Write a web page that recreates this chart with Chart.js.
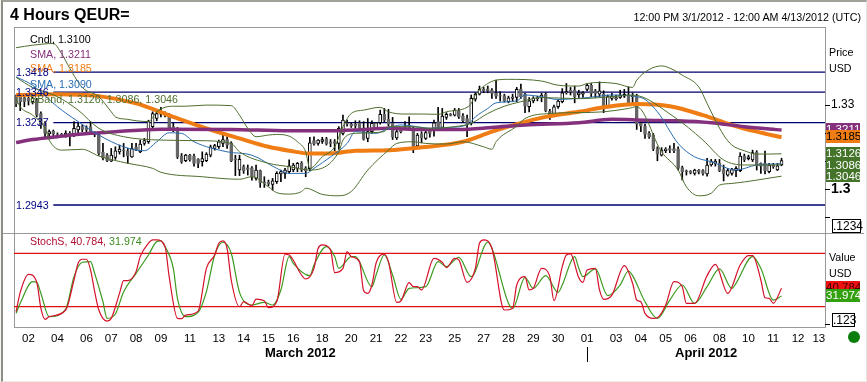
<!DOCTYPE html>
<html>
<head>
<meta charset="utf-8">
<title>4 Hours QEUR=</title>
<script src="https://cdn.jsdelivr.net/npm/chart.js@4"></script>
<style>
  html, body { margin: 0; padding: 0; background: #f6f6f0; }
  #page { position: relative; width: 867px; height: 382px; overflow: hidden; font-family: "Liberation Sans", Arial, sans-serif; }
  #page div { position: absolute; }
  .txt { font-size: 10.7px; line-height: 14px; white-space: nowrap; }
  .tag { left: 826px; width: 34px; text-align: center; font-size: 11.5px; line-height: 13px; overflow: hidden; }
  .box { border: 1px solid #000; background: #fff; color: #000; font-size: 12px; line-height: 13px; text-align: center; }
</style>
</head>
<body>
<div id="page">
  <div style="left:1px;top:0;width:863px;height:379px;background:#fff;border-top:2px solid #a0a098;border-left:2px solid #8c8c84;border-right:1px solid #e4e4dc;border-bottom:1px solid #ecece4;"></div>
  <div style="left:14px;top:27px;width:810px;height:299px;border:1px solid #999;"></div>
  <div style="left:2px;top:233px;width:862px;height:1px;background:#999;"></div>
  <canvas id="chart" width="867" height="382" style="position:absolute;left:0;top:0;"></canvas>

  <div class="txt" style="left:10px;top:5px;font-size:16px;line-height:20px;font-weight:bold;color:#000;">4 Hours QEUR=</div>
  <div class="txt" style="right:6px;top:10px;font-size:10.7px;color:#000;">12:00 PM 3/1/2012 - 12:00 AM 4/13/2012 (UTC)</div>

  <div class="txt" style="left:30px;top:32px;color:#000;">Cndl, 1.3100</div>
  <div class="txt" style="left:30px;top:47px;color:#84307c;">SMA, 1.3211</div>
  <div class="txt" style="left:30px;top:61px;color:#f07c14;">SMA, 1.3185</div>
  <div class="txt" style="left:30px;top:77px;color:#2a6cb0;">SMA, 1.3090</div>
  <div class="txt" style="left:30px;top:92px;color:#4e6e2e;">BBand, 1.3126, 1.3086, 1.3046</div>

  <div class="txt" style="left:16px;top:65px;color:#000080;">1.3418</div>
  <div class="txt" style="left:16px;top:85px;color:#000080;">1.3346</div>
  <div class="txt" style="left:16px;top:115px;color:#000080;">1.3237</div>
  <div class="txt" style="left:16px;top:198px;color:#000080;">1.2943</div>

  <div class="txt" style="left:829px;top:45px;color:#000;">Price</div>
  <div class="txt" style="left:829px;top:61px;color:#000;">USD</div>
  <div class="txt" style="left:829px;top:250px;color:#000;">Value</div>
  <div class="txt" style="left:829px;top:266px;color:#000;">USD</div>

  <div class="tag" style="top:123px;height:8px;background:#84307c;color:#fff;">1.3211</div>
  <div class="tag" style="top:130px;height:13px;background:#f07c14;color:#000;">1.3185</div>
  <div class="tag" style="top:147px;height:34px;padding-top:1px;background:#44742a;color:#fff;line-height:11.5px;">1.3126<br>1.3086<br>1.3046</div>
  <div class="tag" style="top:281px;height:8px;background:#ee1111;color:#400;">40.784</div>
  <div class="tag" style="top:289px;height:13px;background:#33a010;color:#fff;">31.974</div>

  <div class="box" style="left:832px;top:219px;width:27px;height:12px;">.1234</div>
  <div class="box" style="left:832px;top:313px;width:21px;height:12px;">.123</div>

  <div class="txt" style="left:30px;top:234px;color:#b01030;">StochS, 40.784, <span style="color:#3a8a1e;">31.974</span></div>

  <div class="txt" style="left:265px;top:346px;font-size:13px;font-weight:bold;color:#000;">March 2012</div>
  <div class="txt" style="left:675px;top:346px;font-size:13px;font-weight:bold;color:#000;">April 2012</div>
  <div style="left:587px;top:347px;width:1px;height:15px;background:#000;"></div>
  <div style="left:848px;top:331px;width:12px;height:12px;border-radius:50%;background:#0a7d0a;"></div>
</div>
<script>
// x axis day labels, position is the candle slot under the label
const dayLabels = ['02','04','06','07','08','09','11','13','14','15','16','18','20','21','22','23','25','27','28','29','30','01','03','04','05','06','08','10','11','12','13'];
const daySlots = [3,10,17,23,29,35,42,49,55,61,67,74,81,87,93,99,106,113,119,125,131,138,145,151,157,163,170,177,183,189,194];

// price pane ticks
const priceTicks = [1.33,1.32,1.31,1.3,1.29];
const priceTickLabels = ['1.33','','','1.3',''];
const stochTicks = [0];

// 4 hour candles
const open = [
  1.3330,1.3330,1.3327,1.3324,1.3312,1.3318,1.3270,1.3235,1.3197,1.3207,
  1.3195,1.3192,1.3193,1.3199,1.3193,1.3211,1.3223,1.3220,1.3223,1.3201,
  1.3195,1.3131,1.3121,1.3100,1.3113,1.3133,1.3139,1.3137,1.3115,1.3151,
  1.3133,1.3163,1.3169,1.3223,1.3252,1.3268,1.3270,1.3264,1.3223,1.3217,
  1.3119,1.3101,1.3121,1.3118,1.3106,1.3098,1.3101,1.3121,1.3145,1.3151,
  1.3163,1.3177,1.3165,1.3109,1.3068,1.3080,1.3076,1.3076,1.3038,1.3066,
  1.3026,1.3024,1.3017,1.3026,1.3054,1.3056,1.3062,1.3068,1.3074,1.3092,
  1.3076,1.3073,1.3173,1.3163,1.3170,1.3180,1.3168,1.3170,1.3163,1.3199,
  1.3237,1.3231,1.3232,1.3237,1.3217,1.3181,1.3205,1.3217,1.3237,1.3267,
  1.3249,1.3235,1.3183,1.3211,1.3225,1.3225,1.3213,1.3154,1.3197,1.3181,
  1.3207,1.3217,1.3241,1.3220,1.3256,1.3267,1.3264,1.3279,1.3262,1.3252,
  1.3235,1.3321,1.3339,1.3357,1.3358,1.3353,1.3343,1.3334,1.3334,1.3312,
  1.3325,1.3327,1.3357,1.3339,1.3294,1.3315,1.3323,1.3327,1.3338,1.3279,
  1.3268,1.3294,1.3312,1.3344,1.3353,1.3353,1.3336,1.3339,1.3356,1.3371,
  1.3351,1.3339,1.3339,1.3296,1.3324,1.3323,1.3327,1.3332,1.3336,1.3330,
  1.3333,1.3235,1.3225,1.3199,1.3193,1.3145,1.3121,1.3137,1.3145,1.3145,
  1.3143,1.3077,1.3064,1.3063,1.3056,1.3068,1.3066,1.3054,1.3086,1.3092,
  1.3092,1.3070,1.3050,1.3056,1.3066,1.3066,1.3118,1.3109,1.3104,1.3132,
  1.3092,1.3092,1.3062,1.3086,1.3068,1.3086
];
const high = [
  1.3336,1.3331,1.3330,1.3330,1.3330,1.3324,1.3276,1.3241,1.3211,1.3211,
  1.3201,1.3199,1.3208,1.3205,1.3241,1.3237,1.3229,1.3226,1.3241,1.3205,
  1.3201,1.3163,1.3127,1.3145,1.3151,1.3157,1.3163,1.3145,1.3163,1.3163,
  1.3175,1.3181,1.3246,1.3276,1.3282,1.3292,1.3276,1.3270,1.3235,1.3220,
  1.3127,1.3124,1.3124,1.3125,1.3109,1.3133,1.3130,1.3157,1.3160,1.3175,
  1.3193,1.3187,1.3169,1.3121,1.3121,1.3086,1.3086,1.3080,1.3086,1.3068,
  1.3044,1.3032,1.3038,1.3062,1.3068,1.3074,1.3104,1.3092,1.3095,1.3098,
  1.3080,1.3185,1.3187,1.3177,1.3185,1.3185,1.3177,1.3177,1.3223,1.3264,
  1.3246,1.3237,1.3244,1.3244,1.3241,1.3252,1.3244,1.3238,1.3282,1.3288,
  1.3285,1.3256,1.3217,1.3217,1.3241,1.3258,1.3223,1.3199,1.3205,1.3208,
  1.3211,1.3246,1.3292,1.3288,1.3273,1.3270,1.3288,1.3288,1.3270,1.3264,
  1.3336,1.3344,1.3368,1.3363,1.3368,1.3359,1.3389,1.3348,1.3339,1.3332,
  1.3339,1.3363,1.3375,1.3342,1.3327,1.3330,1.3332,1.3342,1.3344,1.3285,
  1.3300,1.3320,1.3359,1.3377,1.3363,1.3368,1.3353,1.3348,1.3377,1.3377,
  1.3356,1.3383,1.3351,1.3336,1.3342,1.3336,1.3353,1.3356,1.3365,1.3344,
  1.3339,1.3241,1.3232,1.3205,1.3199,1.3151,1.3148,1.3148,1.3154,1.3163,
  1.3151,1.3082,1.3068,1.3066,1.3071,1.3070,1.3070,1.3110,1.3106,1.3106,
  1.3106,1.3086,1.3074,1.3074,1.3080,1.3130,1.3125,1.3121,1.3139,1.3137,
  1.3094,1.3136,1.3092,1.3092,1.3092,1.3110
];
const low = [
  1.3294,1.3280,1.3294,1.3300,1.3304,1.3258,1.3217,1.3187,1.3185,1.3191,
  1.3185,1.3187,1.3185,1.3154,1.3187,1.3201,1.3205,1.3205,1.3201,1.3187,
  1.3121,1.3104,1.3098,1.3098,1.3106,1.3125,1.3115,1.3092,1.3113,1.3137,
  1.3130,1.3157,1.3163,1.3217,1.3244,1.3258,1.3258,1.3213,1.3205,1.3109,
  1.3092,1.3098,1.3100,1.3082,1.3076,1.3082,1.3098,1.3115,1.3139,1.3145,
  1.3151,1.3145,1.3098,1.3048,1.3048,1.3056,1.3050,1.3032,1.3032,1.3006,
  1.3006,1.3011,1.2996,1.3020,1.3026,1.3038,1.3056,1.3062,1.3062,1.3062,
  1.3044,1.3066,1.3157,1.3157,1.3163,1.3157,1.3151,1.3137,1.3142,1.3193,
  1.3225,1.3220,1.3217,1.3211,1.3175,1.3169,1.3199,1.3213,1.3232,1.3241,
  1.3225,1.3177,1.3177,1.3201,1.3217,1.3213,1.3130,1.3149,1.3165,1.3177,
  1.3185,1.3189,1.3211,1.3217,1.3249,1.3261,1.3261,1.3252,1.3237,1.3187,
  1.3229,1.3314,1.3336,1.3344,1.3344,1.3324,1.3324,1.3314,1.3311,1.3308,
  1.3312,1.3312,1.3324,1.3273,1.3276,1.3308,1.3315,1.3312,1.3276,1.3249,
  1.3261,1.3288,1.3308,1.3339,1.3336,1.3308,1.3327,1.3327,1.3351,1.3330,
  1.3327,1.3330,1.3273,1.3294,1.3318,1.3318,1.3324,1.3327,1.3300,1.3308,
  1.3213,1.3205,1.3181,1.3181,1.3137,1.3101,1.3118,1.3130,1.3130,1.3130,
  1.3068,1.3032,1.3050,1.3054,1.3050,1.3054,1.3050,1.3046,1.3082,1.3082,
  1.3062,1.3029,1.3046,1.3050,1.3044,1.3062,1.3098,1.3104,1.3098,1.3068,
  1.3056,1.3054,1.3058,1.3074,1.3066,1.3083
];
const close = [
  1.3304,1.3312,1.3312,1.3314,1.3324,1.3264,1.3228,1.3199,1.3205,1.3198,
  1.3189,1.3195,1.3199,1.3189,1.3217,1.3225,1.3213,1.3211,1.3205,1.3197,
  1.3127,1.3110,1.3101,1.3121,1.3137,1.3143,1.3137,1.3118,1.3145,1.3139,
  1.3161,1.3173,1.3241,1.3270,1.3270,1.3276,1.3264,1.3217,1.3214,1.3115,
  1.3098,1.3121,1.3104,1.3092,1.3092,1.3109,1.3125,1.3151,1.3155,1.3169,
  1.3177,1.3157,1.3101,1.3104,1.3106,1.3066,1.3070,1.3044,1.3068,1.3023,
  1.3020,1.3018,1.3029,1.3056,1.3062,1.3068,1.3083,1.3086,1.3092,1.3068,
  1.3066,1.3165,1.3161,1.3175,1.3177,1.3161,1.3163,1.3163,1.3217,1.3246,
  1.3232,1.3225,1.3225,1.3217,1.3177,1.3205,1.3235,1.3237,1.3267,1.3246,
  1.3232,1.3185,1.3205,1.3205,1.3220,1.3217,1.3154,1.3193,1.3183,1.3202,
  1.3199,1.3237,1.3217,1.3261,1.3267,1.3263,1.3282,1.3258,1.3244,1.3232,
  1.3324,1.3338,1.3356,1.3351,1.3351,1.3342,1.3332,1.3332,1.3315,1.3326,
  1.3329,1.3356,1.3330,1.3296,1.3315,1.3324,1.3326,1.3336,1.3279,1.3264,
  1.3294,1.3314,1.3344,1.3348,1.3346,1.3330,1.3344,1.3344,1.3371,1.3342,
  1.3342,1.3351,1.3296,1.3330,1.3332,1.3327,1.3336,1.3338,1.3306,1.3333,
  1.3232,1.3225,1.3195,1.3187,1.3143,1.3125,1.3139,1.3143,1.3139,1.3137,
  1.3074,1.3062,1.3060,1.3058,1.3068,1.3060,1.3056,1.3086,1.3098,1.3100,
  1.3066,1.3054,1.3066,1.3070,1.3074,1.3118,1.3104,1.3115,1.3130,1.3083,
  1.3082,1.3066,1.3086,1.3080,1.3083,1.3102
];

// indicators, read at the bends of each line
const smaLongSlots = [0,4,10,18,24,35,52,66,74,82,90,98,107,115,123,136,144,152,160,168,176,185];
const smaLong = [1.3166,1.3177,1.3187,1.3199,1.3205,1.3214,1.3213,1.3208,1.3208,1.3211,1.3217,1.3213,1.3213,1.3220,1.3229,1.3237,1.3249,1.3246,1.3244,1.3237,1.3223,1.3211];

const smaMidSlots = [0,10,20,29,38,46,54,61,66,71,76,82,90,98,108,115,121,128,136,142,150,158,166,173,179,185];
const smaMid = [1.3336,1.3339,1.3332,1.3306,1.3258,1.3217,1.3181,1.3151,1.3137,1.3127,1.3127,1.3137,1.3139,1.3149,1.3169,1.3205,1.3232,1.3258,1.3276,1.3292,1.3304,1.3296,1.3264,1.3229,1.3205,1.3185];

const smaShortSlots = [0,4,10,15,20,26,31,34,37,40,43,51,57,63,66,70,72,76,80,82,87,90,93,97,100,104,109,111,114,116,121,123,127,131,136,140,144,151,155,160,164,168,174,179,185];
const smaShort = [1.3401,1.3371,1.3294,1.3241,1.3193,1.3151,1.3137,1.3169,1.3201,1.3199,1.3169,1.3133,1.3121,1.3074,1.3056,1.3056,1.3074,1.3115,1.3163,1.3205,1.3199,1.3217,1.3229,1.3223,1.3217,1.3220,1.3229,1.3258,1.3288,1.3308,1.3315,1.3336,1.3330,1.3320,1.3324,1.3330,1.3336,1.3327,1.3276,1.3163,1.3115,1.3098,1.3068,1.3086,1.3090];

const bandUpSlots = [0,4,9,11,13,16,20,23,24,27,29,32,34,36,38,41,46,52,54,56,58,61,63,66,68,70,71,74,77,79,81,84,88,90,94,98,102,104,109,110,111,114,116,119,127,131,136,138,141,145,149,150,153,156,159,161,165,167,169,171,173,176,179,182,185];
const bandUp = [1.3505,1.3514,1.3520,1.3484,1.3431,1.3363,1.3330,1.3276,1.3258,1.3249,1.3244,1.3241,1.3276,1.3292,1.3296,1.3296,1.3300,1.3298,1.3264,1.3217,1.3187,1.3193,1.3195,1.3189,1.3169,1.3133,1.3074,1.3115,1.3151,1.3223,1.3270,1.3282,1.3292,1.3276,1.3268,1.3268,1.3267,1.3276,1.3292,1.3306,1.3336,1.3377,1.3389,1.3392,1.3386,1.3371,1.3368,1.3377,1.3381,1.3377,1.3363,1.3389,1.3427,1.3440,1.3425,1.3407,1.3365,1.3306,1.3246,1.3193,1.3157,1.3137,1.3125,1.3125,1.3126];

const bandMidSlots = [0,4,10,15,20,26,35,44,52,54,61,66,71,78,79,82,89,90,95,100,106,110,114,118,122,127,136,144,149,159,166,171,176,185];
const bandMid = [1.3399,1.3363,1.3330,1.3282,1.3217,1.3187,1.3175,1.3173,1.3163,1.3133,1.3092,1.3080,1.3068,1.3133,1.3175,1.3199,1.3205,1.3223,1.3223,1.3217,1.3223,1.3235,1.3270,1.3296,1.3312,1.3327,1.3323,1.3330,1.3336,1.3258,1.3175,1.3104,1.3086,1.3086];

const bandLowSlots = [0,1,4,7,8,11,16,20,27,33,35,45,54,57,61,63,66,69,70,74,78,81,85,90,92,96,99,104,108,113,115,116,121,123,129,136,142,148,150,156,160,162,165,168,170,173,179,185];
const bandLow = [1.3324,1.3294,1.3264,1.3217,1.3175,1.3139,1.3142,1.3118,1.3092,1.3074,1.3060,1.3044,1.3035,1.3044,1.3008,1.2987,1.2982,1.2991,1.3003,1.2981,1.2976,1.2991,1.3068,1.3139,1.3163,1.3169,1.3163,1.3161,1.3169,1.3151,1.3142,1.3169,1.3225,1.3252,1.3270,1.3273,1.3276,1.3288,1.3294,1.3133,1.3068,1.3008,1.2976,1.2985,1.3014,1.3020,1.3032,1.3046];

// horizontal level lines
const priceLevels = [1.3418,1.3346,1.3237,1.2943];
const stochLevels = [80,20];

// stochastic, lower pane
const stochKSlots = [0,1,3,5,6,7,8,12,14,15,16,17,18,19,20,22,23,25,26,27,29,30,32,33,34,36,37,39,40,41,44,46,48,49,50,51,52,54,55,57,58,60,61,63,65,66,70,72,73,74,76,77,79,80,81,83,84,85,86,87,89,90,92,93,95,96,97,98,101,103,104,106,107,109,111,112,113,115,118,120,121,123,124,125,127,129,130,132,133,134,136,137,138,140,141,142,144,147,149,150,151,152,154,155,157,159,161,162,164,167,169,172,175,177,178,180,181,182,183,185];
const stochK = [14.4,36.1,56.4,47.4,18.1,5.8,8.8,16.3,50,68.8,73.3,73.3,61.3,36.9,16.3,3.9,6.9,35,49.3,49.3,59.4,76.3,91.3,95,95,87.5,53.8,6.9,6.5,10.6,15.1,63.1,78.1,91.3,93.9,85.6,50,20,25.6,21.1,28.6,26.8,18.9,25.6,78.9,78.1,51.1,63.1,85.6,89.4,83.8,58.3,63.1,81.9,76.3,70.6,38,35,44.4,68.8,78.9,70.6,24.9,26.4,47,42.5,42.5,38.8,74.4,69.9,63.9,74.4,72.5,47.4,63.1,91.3,95,85.6,16.3,18.1,44.4,53.8,38.8,40.6,63.1,53.8,26.8,65,78.1,79.3,52.6,47.4,61.3,63.1,38.8,28.3,33.1,66.1,46.3,27.5,25.6,12.5,6.9,7.6,21.9,48.1,42.5,23.8,23.8,54.9,67.6,35,66.9,77.4,77.4,50,30.1,29.4,23.8,40.784];

const stochDSlots = [0,1,4,5,6,8,12,14,16,18,19,21,22,24,26,29,32,34,35,36,38,39,41,44,46,48,50,52,54,57,60,62,64,66,67,71,72,75,77,78,81,82,86,87,89,91,93,95,99,102,104,107,110,114,115,119,120,123,125,128,131,132,135,136,137,140,143,146,148,149,152,155,158,161,164,167,170,173,174,178,180,183,185];
const stochD = [12.5,23.8,48.1,47.4,35,8.8,17.4,53.8,69.9,70.6,57.5,25.6,6.9,11.8,36.9,57.5,78.1,93.1,93.9,87.5,63.1,29.4,8.8,13.6,36.9,78.1,92.4,80,36.1,21.9,24.9,21.9,38.8,76.3,68.8,54.9,66.9,87.5,76.3,63.1,76.3,76.3,42.5,55.6,78.1,55.6,28.3,40.6,42.5,70.6,65,75.5,53.8,92.4,85.6,23.8,18.1,52.6,40.6,54.9,36.1,44.4,76.3,63.1,53.8,62.4,32.4,44.4,60.1,54.9,25.6,6.9,27.5,44.4,23.8,42.5,62.4,40.6,46.3,76.3,63.1,27.5,31.974];

const ctx = document.getElementById('chart').getContext('2d');

const zip = (xs, ys) => xs.map((x, i) => ({x: x, y: ys[i]}));
const curve = (slots, values, color, width) => ({
  type: 'line', data: zip(slots, values), yAxisID: 'y',
  borderColor: color, borderWidth: width, pointRadius: 0,
  cubicInterpolationMode: 'monotone', order: 1
});
const level = (value, from, axis, color) => ({
  type: 'line', data: [{x: from, y: value}, {x: 195.5, y: value}], yAxisID: axis,
  borderColor: color, borderWidth: 1.3, pointRadius: 0, order: 5
});
const stoch = (slots, values, color, ord) => ({
  type: 'line', data: zip(slots, values), yAxisID: 'yStoch',
  borderColor: color, borderWidth: 1.2, pointRadius: 0,
  cubicInterpolationMode: 'monotone', order: ord
});

new Chart(ctx, {
  type: 'bar',
  data: {
    datasets: [
      ...priceLevels.map(v => level(v, 9, 'y', '#00006e')),
      ...stochLevels.map(v => level(v, -0.5, 'yStoch', '#e01010')),
      {
        // wicks
        data: open.map((o, i) => ({x: i, y: [low[i], high[i]]})),
        yAxisID: 'y', grouped: false, barThickness: 1,
        backgroundColor: '#000', order: 4
      },
      {
        // bodies, hollow when the candle closed up
        data: open.map((o, i) => ({x: i, y: [o, close[i]]})),
        yAxisID: 'y', grouped: false, barThickness: 3,
        backgroundColor: open.map((o, i) => close[i] >= o ? '#fff' : '#666'),
        borderColor: open.map((o, i) => close[i] >= o ? '#000' : '#666'),
        borderWidth: 1, borderSkipped: false, order: 3
      },
      curve(bandUpSlots, bandUp, '#4e6e2e', 1),
      curve(bandMidSlots, bandMid, '#4e6e2e', 1),
      curve(bandLowSlots, bandLow, '#4e6e2e', 1),
      curve(smaShortSlots, smaShort, '#2a6cb0', 1),
      curve(smaLongSlots, smaLong, '#84307c', 3.5),
      curve(smaMidSlots, smaMid, '#f07c14', 4),
      stoch(stochDSlots, stochD, '#3a9a1e', 2),
      stoch(stochKSlots, stochK, '#d4102a', 1)
    ]
  },
  options: {
    responsive: false,
    animation: false,
    layout: {padding: {left: 14, top: 27, right: 0, bottom: 0}},
    plugins: {legend: {display: false}, tooltip: {enabled: false}},
    scales: {
      x: {
        type: 'linear', min: -0.5, max: 195.5, offset: false,
        grid: {display: false, drawTicks: false, tickLength: 0}, border: {display: false},
        afterBuildTicks: (scale) => { scale.ticks = daySlots.map(v => ({value: v})); },
        afterFit: (scale) => { scale.height = 55; },
        ticks: {
          autoSkip: false, maxRotation: 0, minRotation: 0, padding: 5,
          color: '#000', font: {family: '"Liberation Sans", Arial', size: 11.5},
          callback: (value, index) => dayLabels[index]
        }
      },
      y: {
        type: 'linear', position: 'right', stack: 'panes', stackWeight: 206, weight: 0,
        min: 1.2843, max: 1.3579, beginAtZero: false,
        grid: {drawOnChartArea: false, tickLength: 5, tickColor: '#000'},
        border: {display: false},
        afterBuildTicks: (scale) => { scale.ticks = priceTicks.map(v => ({value: v})); },
        afterFit: (scale) => { scale.width = 42; },
        ticks: {
          autoSkip: false, padding: 1, color: '#000',
          font: (c) => c.index === 3
            ? {family: '"Liberation Sans", Arial', size: 14, weight: 'bold'}
            : {family: '"Liberation Sans", Arial', size: 12},
          callback: (value, index) => priceTickLabels[index]
        }
      },
      yStoch: {
        type: 'linear', position: 'right', stack: 'panes', stackWeight: 94, weight: 1,
        min: -2.8, max: 102.8, beginAtZero: false,
        grid: {drawOnChartArea: false, tickLength: 5, tickColor: '#000'},
        border: {display: false},
        afterBuildTicks: (scale) => { scale.ticks = stochTicks.map(v => ({value: v})); },
        afterFit: (scale) => { scale.width = 42; },
        ticks: {autoSkip: false, padding: 1, callback: () => ''}
      }
    }
  }
});
</script>
</body>
</html>
